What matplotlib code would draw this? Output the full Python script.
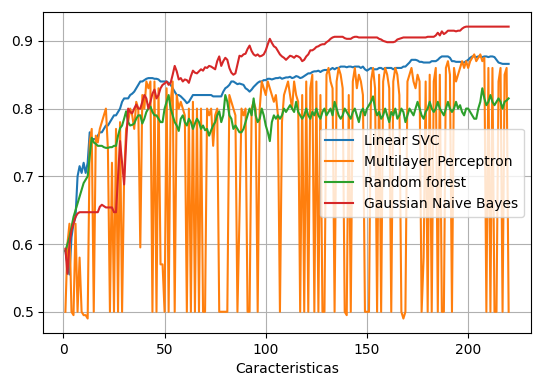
import matplotlib
matplotlib.use('Agg')
import matplotlib.pyplot as plt

# numero de caracteristicas (1..220)
n_caract = list(range(1, 221))

linear_svc = [
    0.59, 0.57, 0.555, 0.61, 0.63, 0.64, 0.70, 0.715, 0.705, 0.72,
    0.705, 0.72, 0.765, 0.755, 0.755, 0.755, 0.76, 0.765, 0.765, 0.77,
    0.775, 0.775, 0.78, 0.785, 0.79, 0.79, 0.795, 0.80, 0.81, 0.815,
    0.815, 0.815, 0.82, 0.822, 0.825, 0.83, 0.835, 0.84, 0.84, 0.842,
    0.844, 0.845, 0.845, 0.845, 0.844, 0.844, 0.843, 0.84, 0.84, 0.84,
    0.84, 0.838, 0.835, 0.83, 0.825, 0.82, 0.82, 0.818, 0.815, 0.812,
    0.808, 0.81, 0.815, 0.82, 0.82, 0.82, 0.82, 0.82, 0.82, 0.82,
    0.82, 0.82, 0.82, 0.818, 0.818, 0.818, 0.818, 0.818, 0.825, 0.83,
    0.832, 0.835, 0.84, 0.84, 0.838, 0.836, 0.837, 0.836, 0.835, 0.83,
    0.828, 0.825, 0.828, 0.832, 0.835, 0.838, 0.84, 0.84, 0.842, 0.842,
    0.844, 0.844, 0.843, 0.844, 0.845, 0.845, 0.846, 0.844, 0.845, 0.846,
    0.846, 0.847, 0.845, 0.846, 0.848, 0.847, 0.845, 0.846, 0.848, 0.85,
    0.852, 0.852, 0.854, 0.855, 0.855, 0.856, 0.854, 0.856, 0.857, 0.857,
    0.856, 0.858, 0.86, 0.858, 0.86, 0.86, 0.862, 0.862, 0.862, 0.861,
    0.862, 0.862, 0.861, 0.862, 0.862, 0.862, 0.86, 0.862, 0.858, 0.856,
    0.858, 0.86, 0.858, 0.858, 0.858, 0.86, 0.86, 0.858, 0.86, 0.86,
    0.86, 0.86, 0.858, 0.86, 0.86, 0.86, 0.86, 0.862, 0.862, 0.865,
    0.868, 0.872, 0.872, 0.872, 0.871, 0.869, 0.869, 0.868, 0.868, 0.868,
    0.868, 0.87, 0.87, 0.87, 0.872, 0.875, 0.877, 0.877, 0.877, 0.877,
    0.875, 0.87, 0.87, 0.869, 0.869, 0.869, 0.868, 0.868, 0.87, 0.872,
    0.875, 0.877, 0.877, 0.876, 0.877, 0.877, 0.876, 0.877, 0.877, 0.876,
    0.877, 0.877, 0.876, 0.872, 0.868, 0.867, 0.866, 0.866, 0.866, 0.866,
]

mlp = [
    0.5, 0.6, 0.63, 0.5, 0.495, 0.63, 0.5, 0.58, 0.5, 0.495,
    0.495, 0.49, 0.75, 0.77, 0.5, 0.76, 0.75, 0.77, 0.78, 0.79,
    0.80, 0.74, 0.5, 0.72, 0.5, 0.77, 0.5, 0.78, 0.5, 0.70,
    0.77, 0.78, 0.80, 0.79, 0.77, 0.81, 0.80, 0.595, 0.82, 0.80,
    0.84, 0.83, 0.84, 0.5, 0.84, 0.5, 0.83, 0.57, 0.57, 0.5,
    0.83, 0.5, 0.81, 0.84, 0.5, 0.82, 0.80, 0.81, 0.80, 0.79,
    0.5, 0.80, 0.5, 0.81, 0.5, 0.80, 0.5, 0.80, 0.5, 0.5,
    0.80, 0.79, 0.80, 0.745, 0.79, 0.80, 0.5, 0.5, 0.5, 0.5,
    0.5, 0.82, 0.81, 0.80, 0.79, 0.5, 0.64, 0.80, 0.79, 0.80,
    0.5, 0.5, 0.80, 0.81, 0.80, 0.5, 0.80, 0.84, 0.83, 0.82,
    0.84, 0.83, 0.82, 0.81, 0.82, 0.79, 0.5, 0.78, 0.82, 0.83,
    0.84, 0.82, 0.80, 0.84, 0.82, 0.81, 0.5, 0.82, 0.5, 0.84,
    0.5, 0.83, 0.85, 0.5, 0.84, 0.5, 0.82, 0.5, 0.5, 0.85,
    0.86, 0.84, 0.83, 0.5, 0.84, 0.86, 0.85, 0.83, 0.5, 0.495,
    0.82, 0.5, 0.84, 0.86, 0.83, 0.85, 0.84, 0.82, 0.5, 0.5,
    0.5, 0.84, 0.86, 0.83, 0.5, 0.85, 0.5, 0.84, 0.86, 0.85,
    0.83, 0.5, 0.84, 0.86, 0.85, 0.82, 0.5, 0.49, 0.5, 0.84,
    0.85, 0.86, 0.84, 0.83, 0.85, 0.84, 0.5, 0.58, 0.84, 0.5,
    0.85, 0.5, 0.84, 0.86, 0.5, 0.85, 0.5, 0.5, 0.86, 0.87,
    0.85, 0.5, 0.86, 0.84, 0.85, 0.86, 0.87, 0.86, 0.87, 0.86,
    0.87, 0.875, 0.88, 0.87, 0.875, 0.88, 0.87, 0.875, 0.5, 0.86,
    0.5, 0.86, 0.5, 0.5, 0.84, 0.86, 0.5, 0.85, 0.86, 0.5,
]

random_forest = [
    0.59, 0.60, 0.61, 0.625, 0.64, 0.65, 0.66, 0.67, 0.68, 0.69,
    0.695, 0.70, 0.73, 0.757, 0.75, 0.748, 0.745, 0.745, 0.745, 0.743,
    0.742, 0.742, 0.743, 0.743, 0.745, 0.745, 0.76, 0.771, 0.775, 0.785,
    0.796, 0.78, 0.775, 0.776, 0.778, 0.785, 0.79, 0.79, 0.778, 0.785,
    0.795, 0.80, 0.803, 0.795, 0.79, 0.79, 0.785, 0.78, 0.78, 0.80,
    0.81, 0.82, 0.80, 0.79, 0.78, 0.775, 0.767, 0.785, 0.79, 0.78,
    0.775, 0.785, 0.78, 0.77, 0.778, 0.785, 0.78, 0.77, 0.775, 0.768,
    0.77, 0.76, 0.768, 0.775, 0.78, 0.79, 0.796, 0.78, 0.79, 0.82,
    0.81, 0.79, 0.785, 0.77, 0.775, 0.77, 0.765, 0.765, 0.77, 0.78,
    0.79, 0.80, 0.79, 0.815, 0.79, 0.78, 0.785, 0.80, 0.79, 0.775,
    0.765, 0.752, 0.78, 0.79, 0.785, 0.79, 0.785, 0.79, 0.80, 0.795,
    0.80, 0.805, 0.80, 0.795, 0.81, 0.795, 0.79, 0.785, 0.79, 0.80,
    0.79, 0.785, 0.795, 0.79, 0.80, 0.79, 0.785, 0.795, 0.80, 0.79,
    0.795, 0.80, 0.79, 0.81, 0.80, 0.79, 0.785, 0.79, 0.80, 0.795,
    0.79, 0.785, 0.795, 0.80, 0.79, 0.78, 0.795, 0.80, 0.79, 0.80,
    0.805, 0.81, 0.818, 0.80, 0.79, 0.795, 0.785, 0.79, 0.80, 0.79,
    0.78, 0.795, 0.79, 0.80, 0.785, 0.79, 0.80, 0.795, 0.78, 0.79,
    0.80, 0.795, 0.79, 0.80, 0.81, 0.80, 0.79, 0.785, 0.795, 0.80,
    0.81, 0.80, 0.795, 0.80, 0.81, 0.80, 0.795, 0.79, 0.80, 0.81,
    0.80, 0.795, 0.80, 0.81, 0.80, 0.805, 0.795, 0.79, 0.80, 0.80,
    0.795, 0.79, 0.785, 0.785, 0.80, 0.81, 0.83, 0.815, 0.805, 0.81,
    0.82, 0.81, 0.805, 0.81, 0.815, 0.81, 0.80, 0.81, 0.812, 0.815,
]

gaussian_nb = [
    0.593, 0.556, 0.60, 0.62, 0.63, 0.64, 0.645, 0.647, 0.647, 0.647,
    0.647, 0.647, 0.647, 0.647, 0.647, 0.647, 0.647, 0.655, 0.658, 0.656,
    0.654, 0.654, 0.654, 0.654, 0.647, 0.647, 0.70, 0.752, 0.72, 0.688,
    0.75, 0.80, 0.795, 0.793, 0.80, 0.806, 0.80, 0.80, 0.81, 0.82,
    0.815, 0.80, 0.81, 0.822, 0.828, 0.815, 0.82, 0.83, 0.835, 0.837,
    0.84, 0.835, 0.838, 0.85, 0.863, 0.855, 0.843, 0.845, 0.84, 0.843,
    0.842, 0.838, 0.848, 0.856, 0.853, 0.852, 0.855, 0.858, 0.856, 0.861,
    0.86, 0.863, 0.862, 0.86, 0.858, 0.87, 0.877, 0.863, 0.87, 0.875,
    0.872, 0.86, 0.853, 0.85, 0.852, 0.865, 0.878, 0.877, 0.88, 0.881,
    0.888, 0.893, 0.885, 0.88, 0.878, 0.88, 0.877, 0.878, 0.88, 0.886,
    0.895, 0.903, 0.897, 0.892, 0.89, 0.885, 0.88, 0.877, 0.875, 0.872,
    0.875, 0.878, 0.877, 0.875, 0.878, 0.877, 0.875, 0.87, 0.872, 0.877,
    0.88, 0.886, 0.886, 0.888, 0.891, 0.892, 0.894, 0.895, 0.895, 0.898,
    0.90, 0.903, 0.905, 0.906, 0.906, 0.906, 0.906, 0.906, 0.904, 0.903,
    0.903, 0.903, 0.905, 0.906, 0.906, 0.905, 0.905, 0.905, 0.905, 0.905,
    0.905, 0.905, 0.905, 0.905, 0.905, 0.903, 0.902, 0.90, 0.899, 0.898,
    0.898, 0.898, 0.898, 0.899, 0.902, 0.903, 0.904, 0.905, 0.905, 0.905,
    0.905, 0.905, 0.905, 0.905, 0.905, 0.905, 0.905, 0.905, 0.905, 0.906,
    0.906, 0.906, 0.906, 0.908, 0.912, 0.908, 0.914, 0.91, 0.912, 0.915,
    0.915, 0.915, 0.915, 0.914, 0.915, 0.915, 0.918, 0.92, 0.921, 0.921,
    0.921, 0.921, 0.921, 0.921, 0.921, 0.921, 0.921, 0.921, 0.921, 0.921,
    0.921, 0.921, 0.921, 0.921, 0.921, 0.921, 0.921, 0.921, 0.921, 0.921,
]

fig = plt.figure(figsize=(5.34, 3.76), dpi=100)
fig.subplots_adjust(left=0.081, right=0.994, top=0.968, bottom=0.114)

plt.plot(n_caract, linear_svc, label='Linear SVC')
plt.plot(n_caract, mlp, label='Multilayer Perceptron')
plt.plot(n_caract, random_forest, label='Random forest')
plt.plot(n_caract, gaussian_nb, label='Gaussian Naive Bayes')

plt.xlabel('Caracteristicas')
plt.grid(True)
plt.legend(loc='center right')

plt.savefig('out.png', dpi=100)
